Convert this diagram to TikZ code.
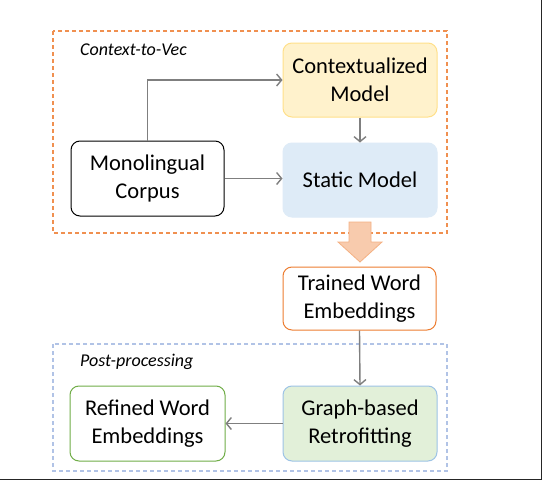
\documentclass[tikz,border=0pt]{standalone}
\usepackage{fontspec}
\setmainfont{Carlito}
\usetikzlibrary{arrows.meta}
\definecolor{dashorange}{HTML}{ED7D31}
\definecolor{dashblue}{HTML}{8FAADC}
\definecolor{ctxfill}{HTML}{FFF2CC}
\definecolor{ctxdraw}{HTML}{FFE08A}
\definecolor{statfill}{HTML}{DEEBF7}
\definecolor{trainedraw}{HTML}{ED7D31}
\definecolor{greendraw}{HTML}{70AD47}
\definecolor{graphfill}{HTML}{E2F0D9}
\definecolor{graphdraw}{HTML}{9DC3E6}
\definecolor{bigarrow}{HTML}{F8CBAD}
\definecolor{bigarrowdraw}{HTML}{F4B183}
\definecolor{conncol}{HTML}{7F7F7F}
\tikzset{
  box/.style={rounded corners=9pt, line width=1pt, align=center, inner sep=2pt,
    font=\fontsize{22.5}{28}\selectfont},
  grouplabel/.style={anchor=west, inner sep=0pt, font=\fontsize{18}{21}\selectfont\itshape},
  groupbox/.style={line width=1.3pt, dash pattern=on 4pt off 3pt},
  conn/.style={draw=conncol, line width=1.4pt, -{Straight Barb[length=5pt,width=12pt]}},
}
\begin{document}
\begin{tikzpicture}[x=1pt,y=-1pt]
\useasboundingbox (0,0) rectangle (542,480);
\fill[white] (0,0) rectangle (542,480);
\draw[line width=1pt, black!85] (541.5,0) -- (541.5,479.5) -- (0,479.5);
% groups
\draw[groupbox, draw=dashorange!85] (53,31) rectangle (447,233);
\draw[groupbox, draw=dashblue!70] (53,344) rectangle (447,471);
\node[grouplabel] (lab1) at (80,50) {Context-to-Vec};
\node[grouplabel] (lab2) at (80,362) {Post-processing};
% nodes
\node[box, fill=ctxfill, draw=ctxdraw, minimum width=154pt, minimum height=74pt] (ctx) at (360,80) {Contextualized\\Model};
\node[box, fill=statfill, draw=statfill, minimum width=154pt, minimum height=74pt] (stat) at (360,180) {Static Model};
\node[box, fill=white, draw=black, minimum width=153pt, minimum height=75pt] (mono) at (147.5,178.5) {Monolingual\\Corpus};
\node[box, fill=white, draw=trainedraw, minimum width=153pt, minimum height=63pt] (trained) at (359.5,298.5) {Trained Word\\Embeddings};
\node[box, fill=graphfill, draw=graphdraw, minimum width=154pt, minimum height=75pt] (graph) at (360,423.5) {Graph-based\\Retrofitting};
\node[box, fill=white, draw=greendraw, minimum width=155pt, minimum height=75pt] (refined) at (147.5,423.5) {Refined Word\\Embeddings};
% connectors
\draw[conn] (mono.north) |- (ctx.west);
\draw[conn] (mono.east) -- (mono.east -| stat.west);
\draw[conn] (ctx.south) -- (stat.north);
\draw[conn] (trained.south) -- (graph.north);
\draw[conn] (graph.west) -- (refined.east);
% big arrow
\draw[fill=bigarrow, draw=bigarrowdraw, line width=0.8pt]
  (349,222) -- (371,222) -- (371,242) -- (382,242) -- (360,262) -- (338,242) -- (349,242) -- cycle;
\end{tikzpicture}
\end{document}
